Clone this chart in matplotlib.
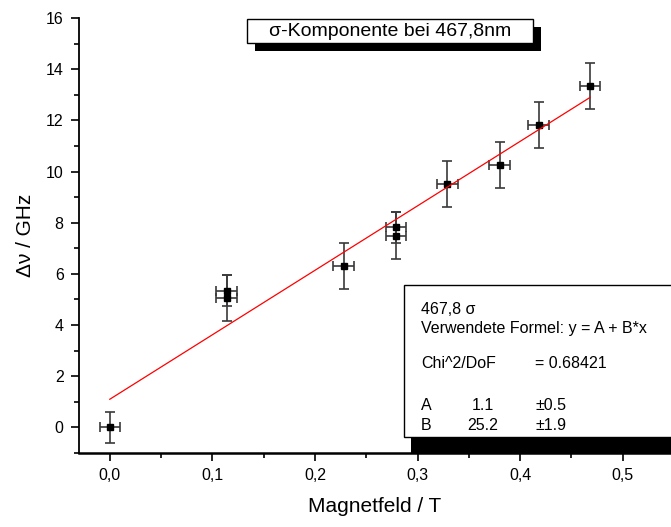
import numpy as np
import matplotlib
matplotlib.use('Agg')
import matplotlib.pyplot as plt
from matplotlib.patches import Rectangle
from matplotlib.ticker import MultipleLocator, FuncFormatter

plt.rcParams['font.family'] = ['Liberation Sans', 'DejaVu Sans']

# ---- data ----
field = [0.0, 0.114, 0.114, 0.228, 0.279, 0.279, 0.329, 0.380, 0.418, 0.468]
delta_nu = [0.0, 5.35, 5.04, 6.29, 7.82, 7.50, 9.50, 10.27, 11.81, 13.33]
delta_nu_err = [0.6, 0.6, 0.9, 0.9, 0.6, 0.9, 0.9, 0.9, 0.9, 0.9]
field_err = [0.01] * 10
fit_A = 1.1
fit_B = 25.2

title_text = "σ-Komponente bei 467,8nm"
box_lines = ["467,8 σ", "Verwendete Formel: y = A + B*x"]
chi_label, chi_value = "Chi^2/DoF", "= 0.68421"
param_names = ["A", "B"]
param_values = ["1.1", "25.2"]
param_errors = ["±0.5", "±1.9"]

W, H = 671, 527
fig = plt.figure(figsize=(W / 100, H / 100), dpi=100)

def px(x0, y0, x1, y1):
    """pixel box (top-left origin) -> figure fraction rect"""
    return (x0 / W, 1 - y1 / H, (x1 - x0) / W, (y1 - y0) / H)

ax_l, ax_t, ax_r, ax_b = 79, 18, 671, 453
ax = fig.add_axes(px(ax_l, ax_t, ax_r, ax_b))

x = np.array(field)
y = np.array(delta_nu)

ax.errorbar(x, y, yerr=delta_nu_err, xerr=field_err, fmt='s', color='black',
            ms=3.8, ecolor='#3a3a3a', elinewidth=1.2, capsize=3.8, capthick=1.2,
            zorder=3)
xs = np.array([0.0, x.max()])
ax.plot(xs, fit_A + fit_B * xs, color='#ff0000', lw=0.9, zorder=4)

ax.set_xlim(-0.030, 0.547)
ax.set_ylim(-1, 16)
for s in ['top', 'right']:
    ax.spines[s].set_visible(False)
ax.spines['left'].set_linewidth(1.3)
ax.spines['bottom'].set_linewidth(1.8)

ax.xaxis.set_major_locator(MultipleLocator(0.1))
ax.xaxis.set_minor_locator(MultipleLocator(0.05))
ax.yaxis.set_major_locator(MultipleLocator(2))
ax.yaxis.set_minor_locator(MultipleLocator(1))
ax.xaxis.set_major_formatter(FuncFormatter(lambda v, p: f"{v:.1f}".replace('.', ',')))
ax.yaxis.set_major_formatter(FuncFormatter(lambda v, p: f"{v:.0f}"))
ax.tick_params(which='major', direction='out', length=6, width=1.2, labelsize=11.5, pad=5)
ax.tick_params(which='minor', direction='out', length=3.5, width=1.2)

ax.set_xlabel("Magnetfeld / T", fontsize=15, labelpad=10)
ax.set_ylabel("Δν / GHz", fontsize=15, labelpad=8)

# ---- title box with shadow ----
sh = 8
tb = (247, 19, 533, 43)
fig.patches.append(Rectangle(px(tb[0] + sh, tb[1] + sh, tb[2] + sh, tb[3] + sh)[:2],
                             *px(*tb)[2:], transform=fig.transFigure,
                             facecolor='black', edgecolor='none', zorder=5))
fig.patches.append(Rectangle(px(*tb)[:2], *px(*tb)[2:], transform=fig.transFigure,
                             facecolor='white', edgecolor='black', lw=1.0, zorder=6))
fig.text((tb[0] + tb[2]) / 2 / W, 1 - (tb[1] + tb[3]) / 2 / H, title_text,
         ha='center', va='center', fontsize=14, zorder=7)

# ---- fit result box with shadow ----
bb = (404, 285, 720, 437)
fig.patches.append(Rectangle(px(bb[0] + 7, bb[1] + 8, bb[2] + 7, ax_b)[:2],
                             *px(bb[0] + 7, bb[1] + 8, bb[2] + 7, ax_b)[2:],
                             transform=fig.transFigure,
                             facecolor='black', edgecolor='none', zorder=5))
fig.patches.append(Rectangle(px(*bb)[:2], *px(*bb)[2:], transform=fig.transFigure,
                             facecolor='white', edgecolor='black', lw=1.0, zorder=6))
fs = 11.5
tx = 421
fig.text(tx / W, 1 - 310 / H, box_lines[0], fontsize=fs, va='center', zorder=7)
fig.text(tx / W, 1 - 329 / H, box_lines[1], fontsize=fs, va='center', zorder=7)
fig.text(tx / W, 1 - 364 / H, chi_label, fontsize=fs, va='center', zorder=7)
fig.text(535 / W, 1 - 364 / H, chi_value, fontsize=fs, va='center', zorder=7)
for i, (n, v, e) in enumerate(zip(param_names, param_values, param_errors)):
    yy = 406 + i * 19
    fig.text(tx / W, 1 - yy / H, n, fontsize=fs, va='center', zorder=7)
    fig.text(483 / W, 1 - yy / H, v, fontsize=fs, va='center', ha='center', zorder=7)
    fig.text(535 / W, 1 - yy / H, e, fontsize=fs, va='center', zorder=7)

fig.savefig("out.png", dpi=100)
